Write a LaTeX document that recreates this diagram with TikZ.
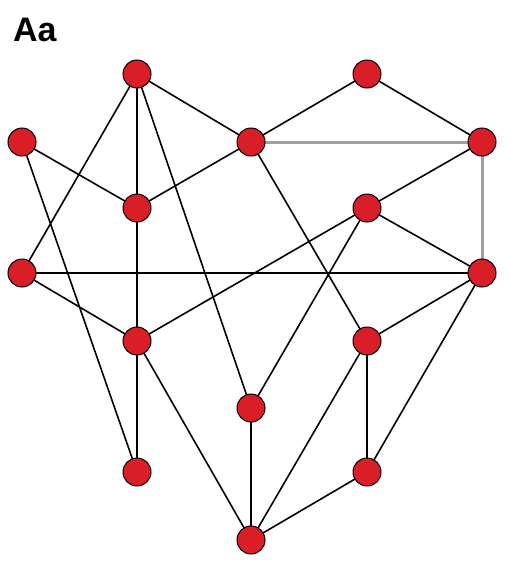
\documentclass[tikz,border=0pt]{standalone}
\usepackage{fontspec}
\setmainfont{Liberation Sans}
\definecolor{nodered}{RGB}{218,30,40}
\definecolor{edgegray}{RGB}{160,160,160}
\begin{document}
\begin{tikzpicture}[x=1pt,y=-1pt,
  vert/.style={circle,draw=black,line width=1pt,fill=nodered,minimum size=28pt,inner sep=0pt},
  edge/.style={draw=black,line width=1.6pt},
  gedge/.style={draw=edgegray,line width=3pt}]
\useasboundingbox (0,0) rectangle (510,562);
\node[anchor=base west,font=\bfseries\fontsize{34}{36}\selectfont,inner sep=0pt] (title) at (13,41) {Aa};
\coordinate (p1) at (137,74);
\coordinate (p2) at (367,74);
\coordinate (p3) at (22,142);
\coordinate (p4) at (251,142);
\coordinate (p5) at (482,142);
\coordinate (p6) at (137,208);
\coordinate (p7) at (367,208);
\coordinate (p8) at (22,273);
\coordinate (p9) at (482,273);
\coordinate (p10) at (137,341);
\coordinate (p11) at (367,341);
\coordinate (p12) at (251,408);
\coordinate (p13) at (137,472);
\coordinate (p14) at (367,472);
\coordinate (p15) at (251,540);
\path[gedge] (p4) -- (p5) (p5) -- (p9);
\path[edge] (p1) -- (p6) (p1) -- (p4) (p1) -- (p8) (p1) -- (p12)
  (p2) -- (p4) (p2) -- (p5) (p3) -- (p6) (p3) -- (p13)
  (p4) -- (p6) (p4) -- (p11) (p5) -- (p7) (p7) -- (p9)
  (p7) -- (p10) (p7) -- (p12) (p8) -- (p9) (p8) -- (p10)
  (p6) -- (p10) (p10) -- (p13) (p10) -- (p15) (p9) -- (p11)
  (p9) -- (p14) (p11) -- (p14) (p11) -- (p15) (p12) -- (p15) (p14) -- (p15);
\foreach \i in {1,...,15} \node[vert] (n\i) at (p\i) {};
\end{tikzpicture}
\end{document}
